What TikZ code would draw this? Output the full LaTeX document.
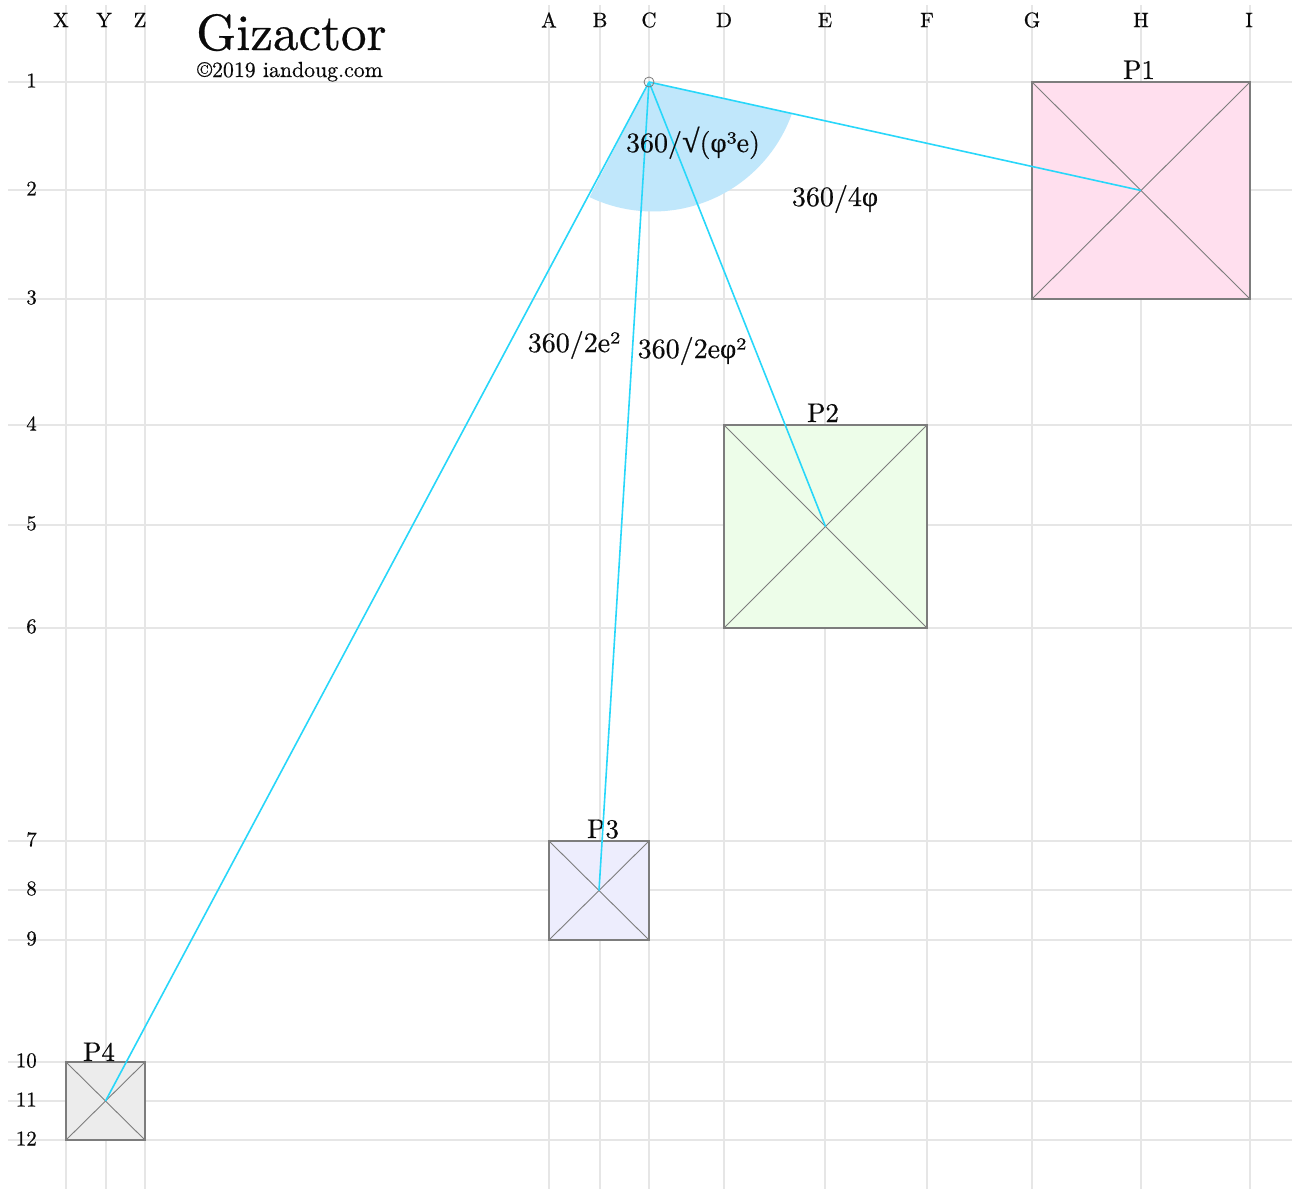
\documentclass[tikz,border=0pt]{standalone}
\usepackage{fontspec}
\setmainfont{lmroman10-regular.otf}[FakeBold=0.5]
\newfontfamily\symf{Liberation Serif}[FakeBold=0.3]
\definecolor{gridc}{RGB}{230,230,230}
\definecolor{rayc}{RGB}{40,215,250}
\definecolor{wedgec}{RGB}{192,231,251}
\definecolor{pinkc}{RGB}{255,223,238}
\definecolor{greenc}{RGB}{237,253,233}
\definecolor{lavc}{RGB}{237,237,253}
\definecolor{grayc}{RGB}{236,236,236}
\definecolor{edgec}{RGB}{125,125,125}
\definecolor{inkc}{RGB}{10,10,10}
\newcommand{\phig}{{\symf φ}}
\newcommand{\rootg}{{\symf\fontsize{32}{34}\selectfont √}}
\tikzset{
  gridline/.style={draw=gridc, line width=1.6pt},
  axislab/.style={font=\fontsize{21}{23}\selectfont, text=inkc, inner sep=0pt},
  pyr/.style={draw=edgec, line width=1.4pt, rectangle, inner sep=0pt, outer sep=0pt},
  diag/.style={draw=edgec, line width=0.9pt},
  ray/.style={draw=rayc, line width=1.6pt},
  wedge/.style={fill=wedgec},
  lab/.style={font=\fontsize{28}{30}\selectfont, text=inkc, inner sep=0pt},
  plab/.style={font=\fontsize{27}{29}\selectfont, text=inkc, inner sep=0pt, anchor=base},
  apex/.style={circle, draw=edgec, line width=0.8pt, minimum size=10pt, inner sep=0pt}
}
\begin{document}
\begin{tikzpicture}[x=1pt,y=-1pt]
\useasboundingbox (0,0) rectangle (1298,1189);
\fill[white] (0,0) rectangle (1298,1189);
% grid
\foreach \n/\x/\lx in {X/66/61,Y/106/104,Z/145/140,A/549/549,B/600/600,C/649/649,D/724/724,E/825/825,F/927/927,G/1032/1032,H/1141/1141,I/1250/1249}{
  \draw[gridline] (\x,5) -- (\x,1189);
  \node[axislab] (col\n) at (\lx,20) {\n};
}
\foreach \n/\y in {1/82,2/190,3/299,4/425,5/525,6/628,7/841,8/890,9/940,10/1062,11/1101,12/1140}{
  \draw[gridline] (8,\y) -- (1292,\y);
  \node[axislab, anchor=east] (row\n) at (37,\y-1.5) {\n};
}
% title
\node[font=\fontsize{51}{53}\selectfont, text=inkc, inner sep=0pt, anchor=base west] (title) at (196,50) {Gizactor};
\node[font=\fontsize{21.8}{23}\selectfont, text=inkc, inner sep=0pt, anchor=base west] (copy) at (197,77) {\char"00A9 2019 iandoug.com};
% pyramids
\node[pyr, fill=pinkc, minimum width=218pt, minimum height=217pt] (P1) at (1141,190.5) {};
\node[pyr, fill=greenc, minimum width=203pt, minimum height=203pt] (P2) at (825.5,526.5) {};
\node[pyr, fill=lavc, minimum width=100pt, minimum height=99pt] (P3) at (599,890.5) {};
\node[pyr, fill=grayc, minimum width=79pt, minimum height=78pt] (P4) at (105.5,1101) {};
\foreach \p in {P1,P2,P3,P4}{
  \draw[diag] (\p.north west) -- (\p.south east);
  \draw[diag] (\p.north east) -- (\p.south west);
}
\node[plab] (l1) at (1139,79) {P1};
\node[plab] (l2) at (823,422) {P2};
\node[plab] (l3) at (603,838) {P3};
\node[plab] (l4) at (99,1061) {P4};
% apex and wedge
\coordinate (O) at (649,82);
\coordinate (W1) at (792,113.4);
\fill[wedge] (O) -- (W1) arc[start angle=19.57, end angle=115.5, radius=147.5] -- cycle;
\draw[ray] (O) -- (P1.center);
\draw[ray] (O) -- (P2.center);
\draw[ray] (O) -- (P3.center);
\draw[ray] (O) -- (P4.center);
\node[apex] (apexnode) at (O) {};
% labels
\node[lab, anchor=base] (a1) at (693,152) {360/\rootg(\phig\char"00B3 e)};
\node[lab, anchor=base] (a2) at (835,206) {360/4\phig};
\node[lab, anchor=base] (a3) at (574,352) {360/2e\char"00B2};
\node[lab, anchor=base] (a4) at (692,358) {360/2e\phig\char"00B2};
\end{tikzpicture}
\end{document}
